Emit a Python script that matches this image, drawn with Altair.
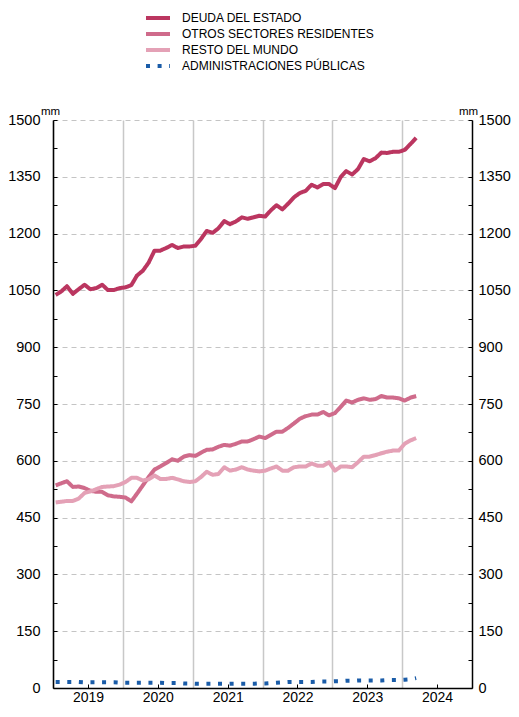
import altair as alt
import pandas as pd

# Monthly observations, January 2019 - March 2024 (mid-month)
fechas = [d.strftime("%Y-%m-%d") for d in (pd.date_range("2019-01-01", periods=63, freq="MS") + pd.Timedelta(days=14))]

deuda = [1038, 1048, 1061, 1041, 1053, 1065, 1053, 1056, 1065, 1051,
         1051, 1056, 1058, 1064, 1089, 1102, 1123, 1155, 1155, 1162,
         1170, 1162, 1166, 1166, 1168, 1187, 1207, 1202, 1214, 1233,
         1225, 1232, 1243, 1239, 1243, 1247, 1245, 1262, 1275, 1264,
         1279, 1296, 1307, 1313, 1329, 1322, 1331, 1331, 1320, 1350,
         1365, 1356, 1370, 1397, 1391, 1399, 1414, 1413, 1416, 1416,
         1421, 1437, 1453]
otros = [535, 541, 546, 531, 532, 528, 521, 518, 518, 509,
         506, 505, 503, 493, 513, 535, 557, 577, 585, 594,
         604, 600, 611, 615, 613, 622, 629, 630, 637, 642,
         640, 645, 651, 651, 657, 664, 660, 669, 677, 677,
         687, 699, 711, 718, 722, 722, 729, 720, 726, 743,
         759, 754, 761, 765, 761, 763, 771, 767, 767, 765,
         759, 767, 771]
resto = [490, 492, 494, 494, 500, 515, 519, 525, 531, 532,
         533, 537, 544, 555, 555, 548, 551, 561, 552, 552,
         555, 551, 546, 544, 546, 558, 571, 563, 565, 583,
         574, 577, 583, 577, 574, 572, 574, 580, 585, 574,
         574, 583, 585, 585, 593, 587, 587, 596, 574, 585,
         585, 583, 596, 611, 611, 615, 620, 624, 627, 627,
         645, 654, 660]
admin = [16, 16, 16, 16, 16, 15, 15, 15, 15, 15, 15, 14,
         14, 14, 14, 14, 14, 14, 14, 13, 13, 13, 12, 12,
         11, 11, 11, 11, 11, 11, 11, 11, 11, 11, 11, 12,
         12, 13, 14, 15, 16, 16, 16, 16, 16, 17, 17, 17,
         18, 18, 19, 19, 20, 20, 20, 20, 20, 21, 21, 21,
         22, 23, 26]

series = ["DEUDA DEL ESTADO", "OTROS SECTORES RESIDENTES", "RESTO DEL MUNDO", "ADMINISTRACIONES PÚBLICAS"]
colores = ["#bb3660", "#cf6b8b", "#e4a1b6", "#1a5ca8"]
trazos = [[1, 0], [1, 0], [1, 0], [4, 7.6]]
y_ticks = [0, 150, 300, 450, 600, 750, 900, 1050, 1200, 1350, 1500]
y_minor = list(range(0, 1501, 75))
anios = [2019, 2020, 2021, 2022, 2023, 2024]

rows = []
for nombre, vals in zip(series, [deuda, otros, resto, admin]):
    for f, v in zip(fechas, vals):
        rows.append({"fecha": f, "valor": v, "serie": nombre})
df = pd.DataFrame(rows)

FONT = "Liberation Sans"
W, H = 419, 568
x_scale = alt.Scale(domain=[alt.DateTime(year=2019, month=1, date=1), alt.DateTime(year=2025, month=1, date=1)])
y_scale = alt.Scale(domain=[0, 1500], nice=False)

base = alt.Chart(df)

leg = alt.Legend(
    orient="none", legendX=97, legendY=-110, title=None, symbolType="M-2,0H2",
    symbolStrokeWidth=4, symbolSize=144, labelFont=FONT, labelFontSize=12,
    labelColor="black", labelOffset=16, rowPadding=0, padding=0, labelLimit=0)

lines = base.mark_line(strokeWidth=4, strokeJoin="round").encode(
    x=alt.X("fecha:T", scale=x_scale, axis=alt.Axis(
        orient="bottom", values=[alt.DateTime(year=a, month=1, date=1) for a in anios],
        format="%Y", labelOffset=35, labelFlush=False, labelOverlap=False, ticks=False,
        grid=True, gridColor="#c8c8c8", gridWidth=1.5, domain=True, domainColor="black",
        domainWidth=1.5, labelFont=FONT, labelFontSize=14, labelColor="black",
        labelBaseline="alphabetic", labelPadding=13, title=None)),
    y=alt.Y("valor:Q", scale=y_scale, axis=alt.Axis(
        orient="left", values=y_ticks, format="d", ticks=False, grid=True, gridDash=[5, 4],
        gridColor="#c4c4c4", gridWidth=1, domain=True, domainColor="black", domainWidth=1.5,
        labelFont=FONT, labelFontSize=14.5, labelColor="black", labelPadding=13,
        title="mm", titleAngle=0, titleX=-12.5, titleY=-6, titleAlign="left",
        titleBaseline="alphabetic", titleFont=FONT, titleFontSize=11.5,
        titleFontWeight="normal", titleColor="black")),
    color=alt.Color("serie:N", scale=alt.Scale(domain=series, range=colores), legend=leg),
    strokeDash=alt.StrokeDash("serie:N", scale=alt.Scale(domain=series, range=trazos), legend=leg),
)

right_axis = base.mark_line(strokeOpacity=0).encode(
    x=alt.X("fecha:T", scale=x_scale, axis=alt.Axis(
        orient="top", offset=-H, values=[alt.DateTime(year=a, month=7, date=2) for a in anios],
        labels=False, ticks=True, tickSize=4, tickColor="black", tickWidth=1,
        domain=False, grid=False, title=None)),
    y=alt.Y("valor:Q", scale=y_scale, axis=alt.Axis(
        orient="right", values=y_ticks, format="d", ticks=False, grid=False, domain=True,
        domainColor="black", domainWidth=1.5, labelFont=FONT, labelFontSize=14.5,
        labelColor="black", labelPadding=6, title="mm", titleAngle=0, titleX=-4,
        titleY=-6, titleAlign="center", titleBaseline="alphabetic", titleFont=FONT,
        titleFontSize=11.5, titleFontWeight="normal", titleColor="black")),
    detail="serie:N",
)

left_inner = base.mark_line(strokeOpacity=0).encode(
    x=alt.X("fecha:T", scale=x_scale, axis=None),
    y=alt.Y("valor:Q", scale=y_scale, axis=alt.Axis(
        orient="right", offset=-W, values=y_minor, labels=False, ticks=True,
        tickSize=4, tickColor="black", tickWidth=1, domain=False, grid=False, title=None)),
    detail="serie:N",
)

right_inner = base.mark_line(strokeOpacity=0).encode(
    x=alt.X("fecha:T", scale=x_scale, axis=None),
    y=alt.Y("valor:Q", scale=y_scale, axis=alt.Axis(
        orient="left", offset=-W, values=y_minor, labels=False, ticks=True,
        tickSize=4, tickColor="black", tickWidth=1, domain=False, grid=False, title=None)),
    detail="serie:N",
)

chart = alt.layer(lines, right_axis, left_inner, right_inner).resolve_axis(
    x="independent", y="independent"
).properties(
    width=W, height=H,
    autosize=alt.AutoSizeParams(type="none"),
    padding={"left": 45, "top": 112, "right": 39, "bottom": 17},
).configure_view(stroke=None)

chart.save("out.html", embed_options={"renderer": "svg", "actions": False})
